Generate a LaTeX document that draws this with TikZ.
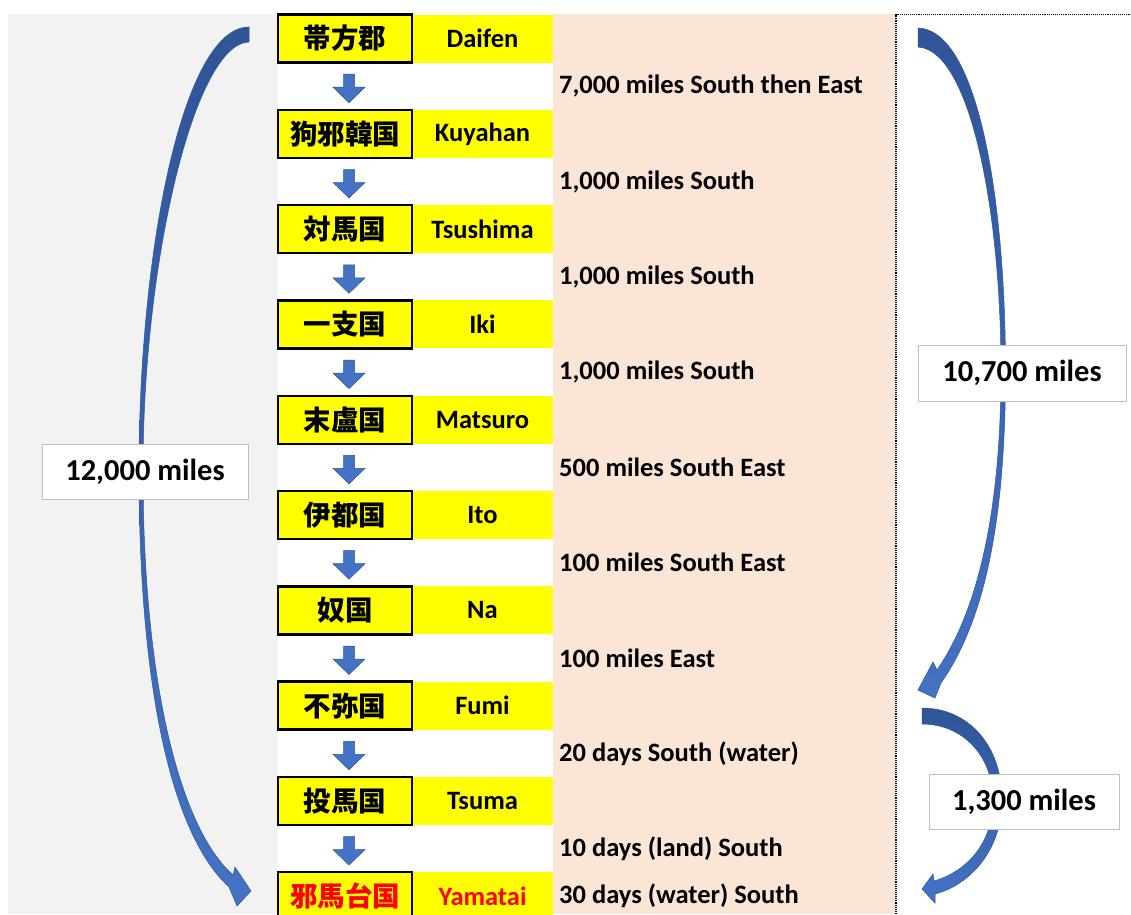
\documentclass[tikz,border=0pt]{standalone}
\usepackage{fontspec}
\setmainfont{Carlito}
\newfontfamily\cjk{Noto Sans CJK JP}
\usetikzlibrary{calc}
\definecolor{peach}{RGB}{251,229,214}
\definecolor{bggray}{RGB}{242,242,242}
\definecolor{arrblue}{RGB}{68,114,196}
\definecolor{arrdark}{RGB}{47,85,151}
\definecolor{lblgray}{RGB}{191,191,191}
\definecolor{yel}{RGB}{255,255,0}
\begin{document}
\begin{tikzpicture}[x=1pt,y=-1pt,
  jbox/.style={draw=black, line width=2.4pt, fill=yel, minimum width=134pt, minimum height=48pt, inner sep=0pt,
    font=\cjk\bfseries\fontsize{27.5}{31}\selectfont},
  ebox/.style={fill=yel, minimum width=141pt, minimum height=48pt, inner sep=0pt,
    font=\bfseries\fontsize{26.5}{30}\selectfont},
  dist/.style={anchor=west, inner sep=0pt, font=\bfseries\fontsize{26.5}{30}\selectfont},
  lbl/.style={draw=lblgray, fill=white, line width=1pt, inner sep=0pt,
    font=\bfseries\fontsize{30.5}{34}\selectfont},
  blockarrow/.style={fill=arrblue, draw=arrdark, line width=0.5pt},
  curvearrow/.style={top color=arrdark, bottom color=arrblue, draw=arrdark, line width=0.5pt}]
\useasboundingbox (0,0) rectangle (1131,914);
\fill[white] (0,0) rectangle (1131,914);
% backgrounds
\fill[bggray] (8,14) rectangle (278,914);
\fill[peach] (553,14) rectangle (896,914);
\draw[densely dotted, line width=1.1pt] (896,914) -- (896,14.5) -- (1131,14.5);
% rows
\foreach \jp/\en [count=\i from 0] in {帯方郡/Daifen, 狗邪韓国/Kuyahan, 対馬国/Tsushima, 一支国/Iki, 末盧国/Matsuro, 伊都国/Ito, 奴国/Na, 不弥国/Fumi, 投馬国/Tsuma}{
  \pgfmathsetmacro{\yy}{38.5+95.3*\i}
  \node[ebox] (e\i) at (482.5,\yy) {\en};
  \node[jbox] (j\i) at (345,\yy) {\jp};
}
\node[ebox, text=red] (e9) at (482.5,896.2) {Yamatai};
\node[jbox, text=red] (j9) at (345,896.2) {邪馬台国};
% distances
\foreach \t [count=\i from 0] in {{7,000 miles South then East},{1,000 miles South},{1,000 miles South},{1,000 miles South},{500 miles South East},{100 miles South East},{100 miles East},{20 days South (water)},{10 days (land) South}}{
  \pgfmathsetmacro{\yy}{86.2+95.3*\i}
  \node[dist] (d\i) at (559,\yy) {\t};
  \coordinate (a\i) at (349,\yy);
  \filldraw[blockarrow] ([shift={(-5.5,-12)}]a\i) -- ([shift={(5.5,-12)}]a\i) -- ([shift={(5.5,1)}]a\i)
     -- ([shift={(16,1)}]a\i) -- ([shift={(0,16.5)}]a\i) -- ([shift={(-16,1)}]a\i) -- ([shift={(-5.5,1)}]a\i) -- cycle;
}
\node[dist] (d9) at (559,896.2) {30 days (water) South};
% curved arrows
\shade[curvearrow] (249,27) .. controls (183,27) and (139,250) .. (139,470)
   .. controls (139,690) and (172,835) .. (229,887) -- (237,906) -- (251,891) -- (235,867) -- (233,875)
   .. controls (182,830) and (143,690) .. (143,470)
   .. controls (143,260) and (195,43) .. (249,42) -- cycle;
\shade[curvearrow] (918,28) .. controls (978,30) and (1005.5,200) .. (1005.5,370)
   .. controls (1005.5,520) and (985,620) .. (941,683) -- (935,698) -- (918,690) -- (933,662) -- (937,670)
   .. controls (975,615) and (1001,520) .. (1001,370)
   .. controls (1001,210) and (970,50) .. (918,47) -- cycle;
\shade[curvearrow] (922,708) .. controls (968,708) and (1002,745) .. (1002,800)
   .. controls (1002,850) and (970,885) .. (935,894) -- (935,903) -- (922,889) -- (933,874) -- (934,881)
   .. controls (965,872) and (993,845) .. (993,800)
   .. controls (993,755) and (962,724) .. (922,724) -- cycle;
% labels
\node[lbl, minimum width=206pt, minimum height=55pt] (L1) at (145,471.5) {12,000 miles};
\node[lbl, minimum width=208pt, minimum height=56pt] (L2) at (1022,373) {10,700 miles};
\node[lbl, minimum width=190pt, minimum height=55pt] (L3) at (1024,801.5) {1,300 miles};
\end{tikzpicture}
\end{document}
